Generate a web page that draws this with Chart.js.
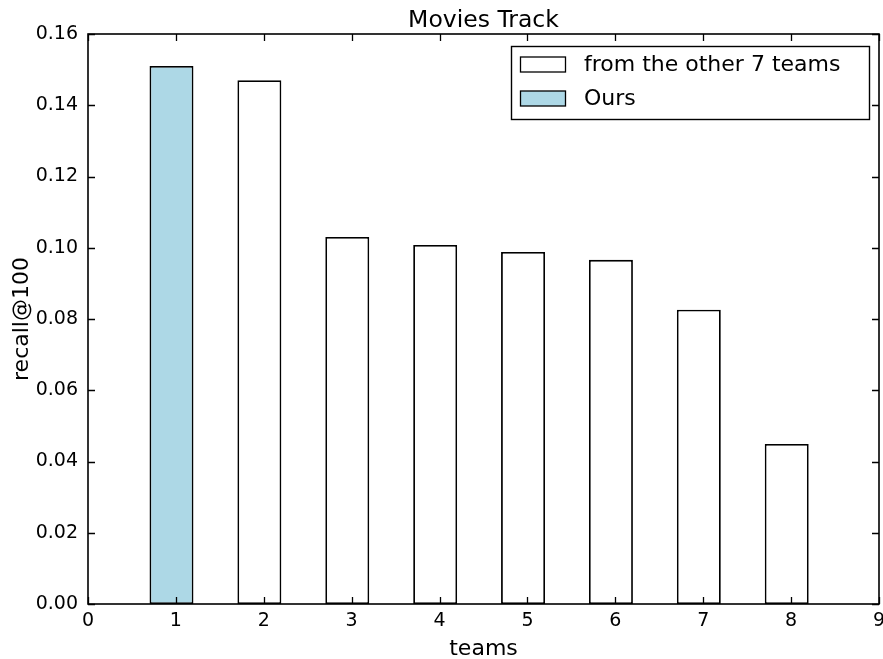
<!DOCTYPE html>
<html>
<head>
<meta charset="utf-8">
<script src="https://cdn.jsdelivr.net/npm/chart.js@4/dist/chart.umd.min.js"></script>
<style>
  html, body { margin: 0; padding: 0; background: #fff; }
  #wrap { width: 883px; height: 659px; position: relative; }
</style>
</head>
<body>
<div id="wrap"><canvas id="c" width="883" height="659"></canvas></div>
<script>
// recall@100 per team, Movies Track
const ourTeams = [1];
const ourRecall = [0.151];
const otherTeams = [2, 3, 4, 5, 6, 7, 8];
const otherRecall = [0.147, 0.103, 0.1008, 0.0988, 0.0966, 0.0826, 0.0449];
const xTicks = [0, 1, 2, 3, 4, 5, 6, 7, 8, 9];
const yTicks = [0, 0.02, 0.04, 0.06, 0.08, 0.10, 0.12, 0.14, 0.16];

const titleText = 'Movies Track';
const xTitle = 'teams';
const yTitle = 'recall@100';
const otherLabel = 'from the other 7 teams';
const ourLabel = 'Ours';

// bar geometry in axis units: bars start 0.3 left of the team number, 0.5 wide
const BAR_LEFT = -0.3;
const BAR_WIDTH = 0.5;
const FONT = '"DejaVu Sans", sans-serif';
const OURS_FILL = '#add8e6';

function toPoints(xs, ys) {
  return xs.map((t, i) => ({ x: t + BAR_LEFT + BAR_WIDTH / 2, y: ys[i] }));
}

// frame, inward ticks, titles and legend box
const decorations = {
  id: 'decorations',
  afterDatasetsDraw(chart) {
    const ctx = chart.ctx;
    const a = chart.chartArea;
    const xs = chart.scales.x, ys = chart.scales.y;
    const tl = 7;
    ctx.save();
    ctx.strokeStyle = '#000';
    ctx.lineWidth = 1.3;
    ctx.beginPath();
    xTicks.forEach(v => {
      const px = Math.round(xs.getPixelForValue(v)) + 0.5;
      ctx.moveTo(px, a.bottom); ctx.lineTo(px, a.bottom - tl);
      ctx.moveTo(px, a.top); ctx.lineTo(px, a.top + tl);
    });
    yTicks.forEach(v => {
      const py = Math.round(ys.getPixelForValue(v)) + 0.5;
      ctx.moveTo(a.left, py); ctx.lineTo(a.left + tl, py);
      ctx.moveTo(a.right, py); ctx.lineTo(a.right - tl, py);
    });
    ctx.stroke();
    ctx.lineWidth = 1.6;
    ctx.strokeRect(a.left, a.top, a.right - a.left, a.bottom - a.top);

    // legend
    const lx = 511, ly = 46, lw = 358, lh = 73;
    ctx.fillStyle = '#fff';
    ctx.fillRect(lx, ly, lw, lh);
    ctx.lineWidth = 1.4;
    ctx.strokeRect(lx + 0.5, ly + 0.5, lw, lh);
    const rows = [
      { label: chart.data.datasets[0].label, fill: chart.data.datasets[0].backgroundColor, cy: 64.5 },
      { label: chart.data.datasets[1].label, fill: chart.data.datasets[1].backgroundColor, cy: 98.5 }
    ];
    ctx.font = '22px ' + FONT;
    ctx.textBaseline = 'middle';
    ctx.textAlign = 'left';
    rows.forEach(r => {
      ctx.fillStyle = r.fill;
      ctx.fillRect(520, r.cy - 7.5, 45, 15);
      ctx.strokeStyle = '#000';
      ctx.lineWidth = 1.3;
      ctx.strokeRect(520.5, r.cy - 7.5, 45, 15);
      ctx.fillStyle = '#000';
      ctx.fillText(r.label, 584, r.cy + 1);
    });

    // chart title and axis titles
    const cx = (a.left + a.right) / 2;
    ctx.fillStyle = '#000';
    ctx.textAlign = 'center';
    ctx.textBaseline = 'alphabetic';
    ctx.font = '23.5px ' + FONT;
    ctx.fillText(titleText, cx, 27);
    ctx.font = '22px ' + FONT;
    ctx.fillText(xTitle, cx, 655);
    ctx.translate(28, (a.top + a.bottom) / 2);
    ctx.rotate(-Math.PI / 2);
    ctx.fillText(yTitle, 0, 0);
    ctx.restore();
  }
};

new Chart(document.getElementById('c'), {
  type: 'bar',
  data: {
    datasets: [
      {
        label: otherLabel,
        data: toPoints(otherTeams, otherRecall),
        backgroundColor: '#ffffff',
        borderColor: '#000000',
        borderWidth: 1.8,
        borderSkipped: false
      },
      {
        label: ourLabel,
        data: toPoints(ourTeams, ourRecall),
        backgroundColor: OURS_FILL,
        borderColor: '#000000',
        borderWidth: 1.8,
        borderSkipped: false
      }
    ]
  },
  options: {
    responsive: false,
    animation: false,
    devicePixelRatio: 1,
    grouped: false,
    barPercentage: BAR_WIDTH,
    categoryPercentage: 1,
    layout: { padding: { top: 34, right: 4, left: 0, bottom: 0 } },
    plugins: {
      legend: { display: false },
      title: { display: false },
      tooltip: { enabled: false }
    },
    scales: {
      x: {
        type: 'linear',
        offset: false,
        min: 0,
        max: 9,
        grid: { display: false, drawTicks: false, offset: false },
        border: { display: false },
        afterBuildTicks(scale) { scale.ticks = xTicks.map(v => ({ value: v })); },
        ticks: {
          color: '#000',
          font: { family: FONT, size: 19 },
          padding: 6,
          maxRotation: 0,
          autoSkip: false,
          callback: v => String(v)
        },
        afterFit(scale) {
          scale.height = 55;
          scale.paddingLeft = 0;
          scale.paddingRight = 0;
        }
      },
      y: {
        min: 0,
        max: 0.16,
        grid: { display: false, drawTicks: false },
        border: { display: false },
        afterBuildTicks(scale) { scale.ticks = yTicks.map(v => ({ value: v })); },
        ticks: {
          color: '#000',
          font: { family: FONT, size: 19 },
          padding: 10,
          autoSkip: false,
          callback: v => Number(v).toFixed(2)
        },
        afterFit(scale) {
          scale.width = 88;
          scale.paddingTop = 0;
          scale.paddingBottom = 0;
        }
      }
    }
  },
  plugins: [decorations]
});
</script>
</body>
</html>
